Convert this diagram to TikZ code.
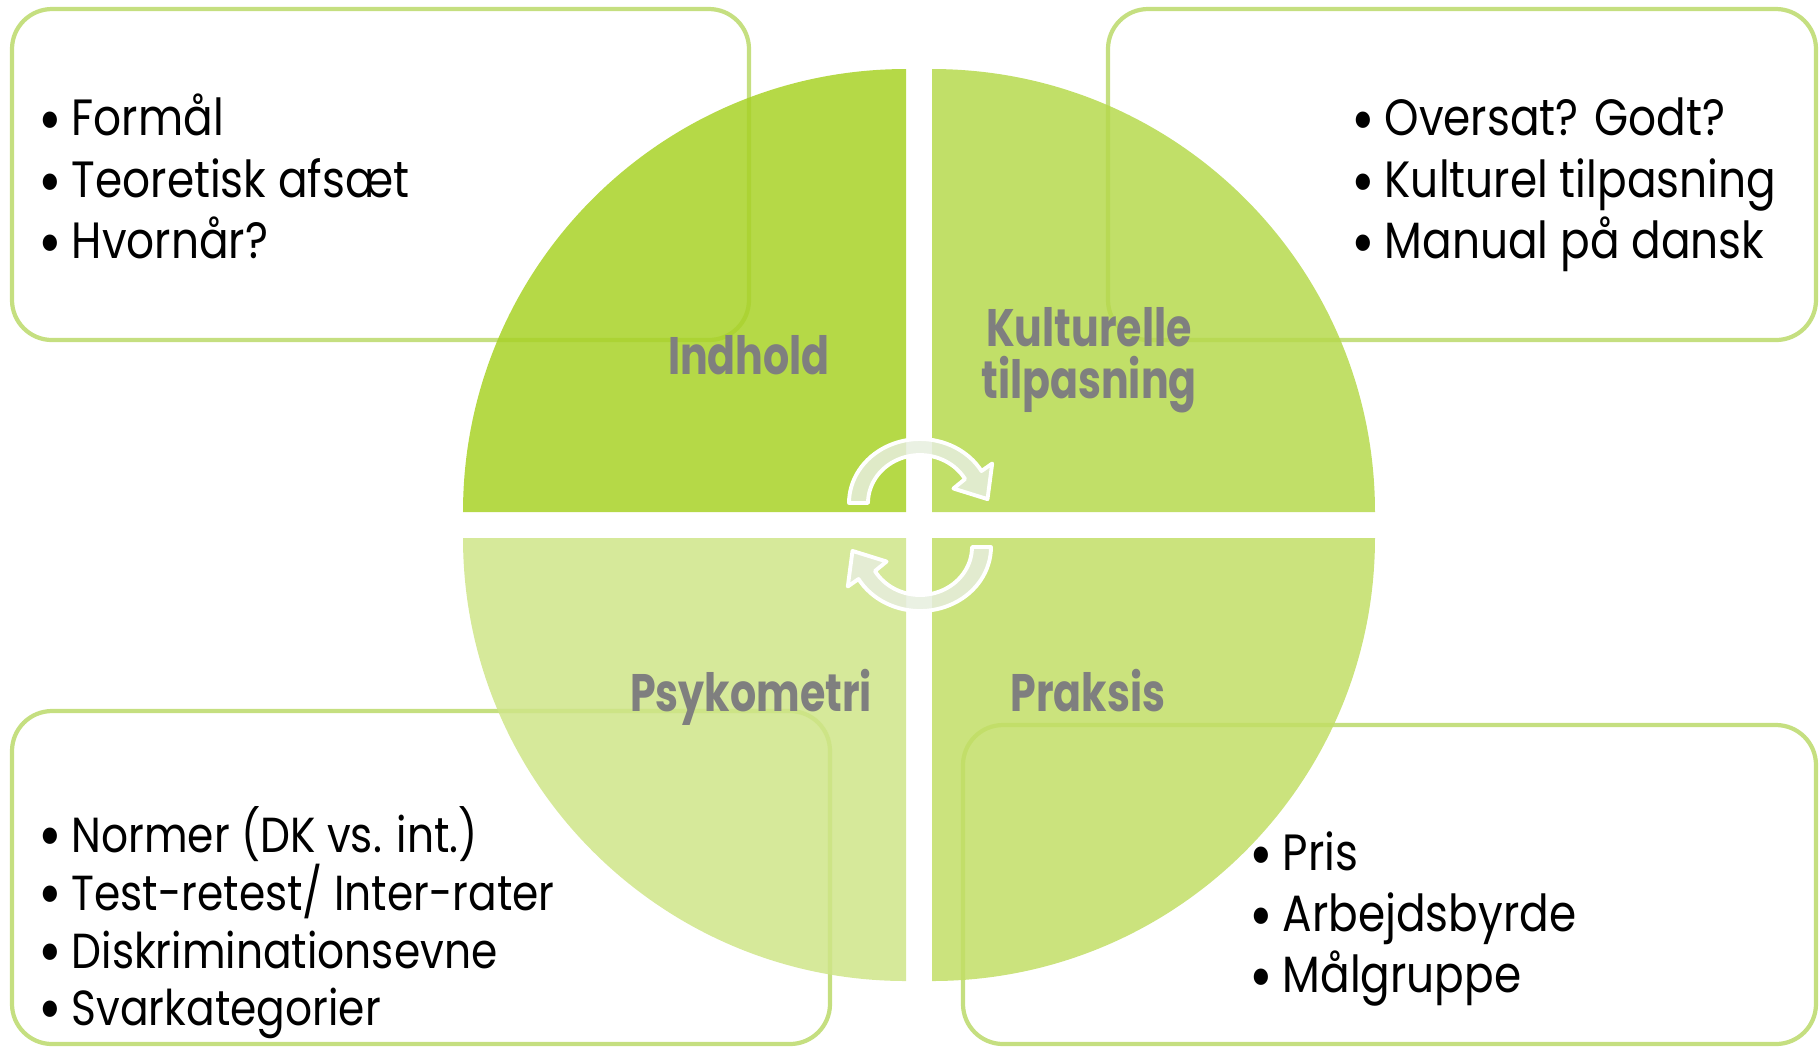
\documentclass[tikz,border=0pt]{standalone}
\usepackage{fontspec}
\setmainfont{Poppins}[FakeStretch=0.86]
\newfontfamily\labelfont{Poppins}[FakeStretch=0.78]
\definecolor{boxline}{RGB}{197,223,128}
\definecolor{qTL}{RGB}{168,210,39}
\definecolor{qTR}{RGB}{182,217,77}
\definecolor{qBR}{RGB}{194,222,102}
\definecolor{qBL}{RGB}{207,229,136}
\definecolor{labelgray}{RGB}{127,127,127}
\definecolor{arrowfill}{RGB}{230,238,222}
\newcommand\bul{\makebox[0.33cm][l]{\raisebox{-0.25ex}{\fontsize{19}{19}\selectfont•}}}
\begin{document}
\begin{tikzpicture}[x=0.01cm,y=-0.01cm,
  infobox/.style={draw=boxline,line width=1.2pt,rounded corners=0.4cm},
  quad/.style={fill opacity=0.85},
  bullet/.style={anchor=base west,inner sep=0pt,font=\fontsize{14.5}{17}\selectfont},
  smallbullet/.style={bullet,font=\fontsize{14}{16}\selectfont},
  qlabel/.style={anchor=base,inner sep=0pt,text=labelgray,align=center,
    font=\labelfont\bfseries\fontsize{15}{15.8}\selectfont},
  cyclearrow/.style={fill=arrowfill,fill opacity=0.85,draw=white,line width=1.1pt,line join=round}]
\useasboundingbox (0,0) rectangle (1820,1050);
\clip (0,0) rectangle (1820,1050);
% boxes
\draw[infobox] (12,9) rectangle (749,340);
\draw[infobox] (1108,9) rectangle (1816,340);
\draw[infobox] (12,711) rectangle (830,1044);
\draw[infobox] (963,725) rectangle (1816,1044);
% quadrants
\fill[quad,qTL] (906,512) -- (463,512) arc[start angle=180,end angle=270,radius=443] -- cycle;
\fill[quad,qTR] (932,512) -- (1375,512) arc[start angle=0,end angle=-90,radius=443] -- cycle;
\fill[quad,qBL] (906,538) -- (463,538) arc[start angle=180,end angle=90,radius=443] -- cycle;
\fill[quad,qBR] (932,538) -- (1375,538) arc[start angle=0,end angle=90,radius=443] -- cycle;
% cycle arrows
\draw[cyclearrow] plot[domain=180:30,samples=40] ({920+71*cos(\x)},{503-64*sin(\x)})
  -- (992.2,463.5) -- (987.5,499.1) -- (953.4,488.5)
  -- plot[domain=30:180,samples=40] ({920+52*cos(\x)},{503-48*sin(\x)}) -- cycle;
\begin{scope}[rotate around={180:(920,525)}]
\draw[cyclearrow] plot[domain=180:30,samples=40] ({920+71*cos(\x)},{503-64*sin(\x)})
  -- (992.2,463.5) -- (987.5,499.1) -- (953.4,488.5)
  -- plot[domain=30:180,samples=40] ({920+52*cos(\x)},{503-48*sin(\x)}) -- cycle;
\end{scope}
% labels
\node[qlabel] (indhold) at (749,374) {Indhold};
\node[qlabel] (kultur) at (1089,346) {Kulturelle};
\node[qlabel] (tilpas) at (1089,398) {tilpasning};
\node[qlabel] (psyk) at (751,711) {Psykometri};
\node[qlabel] (praksis) at (1088,711) {Praksis};
% bullets top-left
\node[bullet] (a1) at (38,135) {\bul Formål};
\node[bullet] (a2) at (38,197) {\bul Teoretisk afsæt};
\node[bullet] (a3) at (38,258) {\bul Hvornår?};
% bullets top-right
\node[bullet] (b1) at (1351,135) {\bul Oversat? Godt?};
\node[bullet] (b2) at (1351,197) {\bul Kulturel tilpasning};
\node[bullet] (b3) at (1351,258) {\bul Manual på dansk};
% bullets bottom-left
\node[smallbullet] (c1) at (38,852) {\bul Normer (DK vs. int.)};
\node[smallbullet] (c2) at (38,910) {\bul Test-retest/ Inter-rater};
\node[smallbullet] (c3) at (38,968) {\bul Diskriminationsevne};
\node[smallbullet] (c4) at (38,1025) {\bul Svarkategorier};
% bullets bottom-right
\node[bullet] (d1) at (1249,870) {\bul Pris};
\node[bullet] (d2) at (1249,931) {\bul Arbejdsbyrde};
\node[bullet] (d3) at (1249,992) {\bul Målgruppe};
\end{tikzpicture}
\end{document}
